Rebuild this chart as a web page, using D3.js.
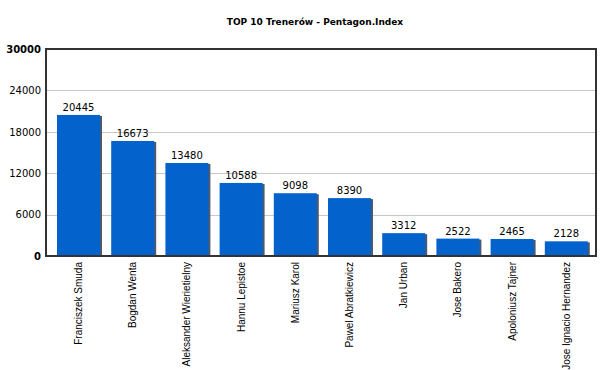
<!DOCTYPE html>
<html><head><meta charset="utf-8">
<script src="https://cdn.jsdelivr.net/npm/d3@7/dist/d3.min.js"></script>
<style>body{margin:0;background:#fff}</style>
</head><body>
<script>
const categories = ["Franciszek Smuda","Bogdan Wenta","Aleksander Wierietielny","Hannu Lepistoe","Mariusz Karol","Pawel Abratkiewicz","Jan Urban","Jose Bakero","Apoloniusz Tajner","Jose Ignacio Hernandez"];
const values = [20445,16673,13480,10588,9098,8390,3312,2522,2465,2128];
const yTicks = [0,6000,12000,18000,24000,30000];
const title = "TOP 10 Trenerów - Pentagon.Index";

const W=603,H=370;
const svg=d3.select("body").append("svg").attr("width",W).attr("height",H);
const L=46,R=596,T=49,B=256;
const x=d3.scaleBand().domain(categories).range([51.4,593.4]).paddingInner(0.207).paddingOuter(0.1035);
const y=d3.scaleLinear().domain([0,30000]).range([B,T]);

svg.append("text").attr("x",315).attr("y",25).attr("text-anchor","middle")
  .attr("font-family","DejaVu Sans").attr("font-weight","bold").attr("font-size",9).attr("fill","#000").text(title);

// grid
svg.append("g").selectAll("line").data(yTicks.filter(d=>d>0&&d<30000)).join("line")
  .attr("x1",L).attr("x2",R).attr("y1",d=>Math.round(y(d))+0.5).attr("y2",d=>Math.round(y(d))+0.5)
  .attr("stroke","#c8c8c8").attr("stroke-width",1);

// y axis labels
const yAxis=d3.axisLeft(y).tickValues(yTicks).tickSize(0).tickPadding(4).tickFormat(d3.format("d"));
const ga=svg.append("g").attr("transform",`translate(${L-1},0)`).call(yAxis);
ga.select(".domain").remove();
ga.selectAll("text").attr("font-family","DejaVu Sans").attr("font-size",10).attr("fill","#000")
  .attr("font-weight",d=>(d===0||d===30000)?"bold":"normal");

// bars shadow
const g=svg.append("g");
g.selectAll("rect.sh").data(values).join("rect").attr("class","sh")
  .attr("x",(d,i)=>x(categories[i])+2).attr("y",d=>y(d)+1)
  .attr("width",x.bandwidth()).attr("height",d=>B-y(d)-1).attr("fill","#4a5a70");
g.selectAll("rect.b").data(values).join("rect").attr("class","b")
  .attr("x",(d,i)=>x(categories[i])).attr("y",d=>y(d))
  .attr("width",x.bandwidth()).attr("height",d=>B-y(d)).attr("fill","#0462cc");

// value labels
g.selectAll("text.v").data(values).join("text").attr("class","v")
  .attr("x",(d,i)=>x(categories[i])+x.bandwidth()/2).attr("y",d=>y(d)-4)
  .attr("text-anchor","middle").attr("font-family","DejaVu Sans").attr("font-size",10).attr("fill","#000")
  .text(d=>d);

// frame
svg.append("rect").attr("x",L).attr("y",T).attr("width",R-L).attr("height",B-T)
  .attr("fill","none").attr("stroke","#333").attr("stroke-width",2);

// x labels
svg.append("g").selectAll("text").data(categories).join("text")
  .attr("transform",d=>`translate(${x(d)+x.bandwidth()/2},${B+6}) rotate(-90)`)
  .attr("dy","0.35em")
  .attr("text-anchor","end").attr("font-family","Liberation Sans").attr("font-size",10).attr("fill","#000")
  .text(d=>d);
</script>
</body></html>
